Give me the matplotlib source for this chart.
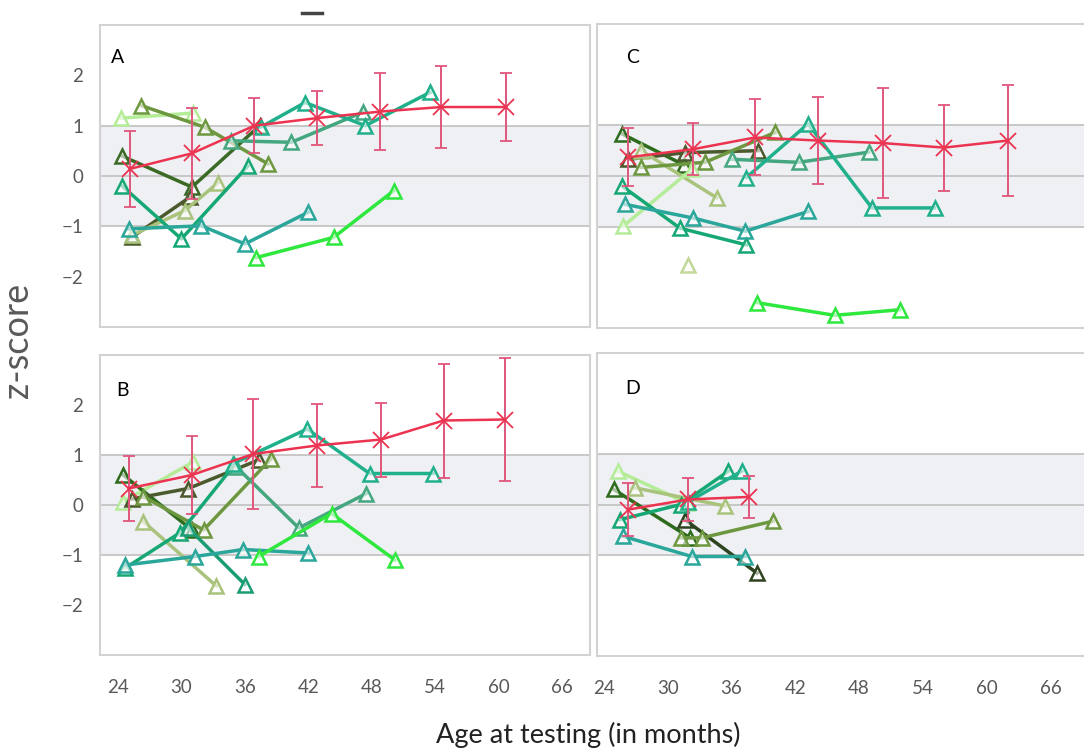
import matplotlib
matplotlib.use('Agg')
import matplotlib.pyplot as plt
from matplotlib.lines import Line2D

plt.rcParams['font.family'] = ['Lato', 'DejaVu Sans']

# Group means (red) with SD error bars
a_mean_age = [25.1, 31.0, 36.9, 42.8, 48.8, 54.6, 60.7]
a_mean_z = [0.14, 0.45, 1.00, 1.15, 1.28, 1.37, 1.37]
a_mean_sd = [0.75, 0.90, 0.55, 0.53, 0.76, 0.82, 0.68]

b_mean_age = [25.0, 31.0, 36.8, 42.8, 48.9, 54.8, 60.6]
b_mean_z = [0.33, 0.60, 1.02, 1.19, 1.31, 1.69, 1.71]
b_mean_sd = [0.65, 0.78, 1.10, 0.83, 0.74, 1.14, 1.23]

c_mean_age = [26.3, 32.4, 38.2, 44.1, 50.2, 56.0, 62.0]
c_mean_z = [0.37, 0.53, 0.76, 0.70, 0.65, 0.56, 0.70]
c_mean_sd = [0.57, 0.52, 0.75, 0.85, 1.08, 0.85, 1.10]

d_mean_age = [26.3, 31.9, 37.6]
d_mean_z = [-0.10, 0.10, 0.15]
d_mean_sd = [0.52, 0.43, 0.42]

# Individual children (green triangles)
a_ages = [[24.3, 31.1], [26.2, 32.2, 38.2], [24.35, 31.0, 37.4], [25.3, 30.8],
          [25.3, 30.3, 33.5], [24.35, 30.0, 36.3], [25.0, 31.9, 36.0, 42.0],
          [34.7, 40.4, 47.2], [37.5, 41.7, 47.4, 53.5], [37.1, 44.4, 50.1]]
a_z = [[1.15, 1.25], [1.40, 0.97, 0.24], [0.40, -0.22, 1.00], [-1.22, -0.42],
       [-1.18, -0.69, -0.13], [-0.19, -1.25, 0.20], [-1.05, -0.99, -1.35, -0.72],
       [0.70, 0.67, 1.27], [0.97, 1.46, 1.00, 1.66], [-1.62, -1.22, -0.29]]

b_ages = [[24.5, 31.1], [24.5, 31.0], [25.3, 30.65, 37.3], [26.4, 32.1, 38.5],
          [26.4, 33.3], [24.7, 29.9, 35.0], [30.6, 36.0], [35.2, 41.1, 47.5],
          [24.7, 31.3, 35.85, 42.0], [34.9, 41.9, 47.8, 53.8], [37.3, 44.2, 50.2]]
b_z = [[0.07, 0.86], [0.60, -0.50], [0.12, 0.33, 0.90], [0.17, -0.50, 0.93],
       [-0.33, -1.62], [-1.26, -0.55, 0.80], [-0.45, -1.59], [0.76, -0.46, 0.23],
       [-1.20, -1.03, -0.89, -0.96], [0.83, 1.52, 0.63, 0.63], [-1.03, -0.17, -1.10]]

c_ages = [[25.7, 31.5], [26.3, 31.6, 38.5], [27.5, 34.6], [27.5, 33.5, 40.1],
          [25.8, 32.25], [36.0, 42.3, 48.9], [37.4, 43.2, 49.2, 55.1],
          [25.7, 31.15, 37.4], [26.0, 32.4, 37.3, 43.2], [31.9], [38.4, 45.7, 51.8]]
c_z = [[0.83, 0.22], [0.33, 0.46, 0.50], [0.50, -0.43], [0.17, 0.27, 0.86],
       [-0.99, 0.13], [0.33, 0.27, 0.47], [-0.03, 1.03, -0.63, -0.63],
       [-0.20, -1.03, -1.36], [-0.56, -0.83, -1.09, -0.70], [-1.76], [-2.50, -2.75, -2.64]]

d_ages = [[25.3, 31.8], [24.9, 32.1], [31.6, 38.4], [26.9, 35.4],
          [31.2, 33.2, 39.9], [25.5, 31.2, 35.7], [31.9, 36.95], [25.8, 32.25, 37.3]]
d_z = [[0.66, 0.03], [0.30, -0.66], [-0.30, -1.36], [0.33, -0.03],
       [-0.66, -0.66, -0.33], [-0.30, 0.00, 0.66], [0.05, 0.66], [-0.63, -1.03, -1.03]]

# greens
PALE = '#b4ec98'
KHAKI = '#a9c37c'
OLIVE = '#6e9840'
DKOLIVE = '#4b5a2c'
DKGREEN = '#2d6b1d'
TEALGRN = '#16a874'
TEAL = '#20b08c'
TEALCYAN = '#2aa69a'
SEA = '#44a780'
BRIGHT = '#2ee83e'

a_colors = [PALE, OLIVE, '#3b6a25', DKOLIVE, KHAKI, TEALGRN, TEALCYAN, SEA, TEAL, BRIGHT]
b_colors = [PALE, DKGREEN, DKOLIVE, OLIVE, KHAKI, TEALGRN, '#1a9c74', SEA, TEALCYAN, TEAL, BRIGHT]
c_colors = [DKGREEN, DKOLIVE, KHAKI, OLIVE, PALE, SEA, TEAL, TEALGRN, TEALCYAN, '#c2d89a', BRIGHT]
d_colors = [PALE, DKGREEN, '#2e4420', KHAKI, OLIVE, TEALGRN, TEAL, TEALCYAN]

W, H = 1084, 748


def panel_rect(left, top, right, bottom):
    return [left / W, 1 - bottom / H, (right - left) / W, (bottom - top) / H]


def draw_panel(ax, ages, zs, colors, m_age, m_z, m_sd, letter, pos, xlim, show_x, show_y):
    ax.axhspan(-1, 1, color='#eef0f4', zorder=0, lw=0)
    for v in (-1, 0, 1):
        ax.axhline(v, color='#c4c4c4', lw=1.3, zorder=1)
    for a, z, c in zip(ages, zs, colors):
        ax.plot(a, z, '-^', color=c, lw=2.5, ms=10, mfc=(1, 1, 1, 0.6),
                mec=c, mew=1.8, zorder=3)
    ax.errorbar(m_age, m_z, yerr=m_sd, fmt='-x', color='#ec3350', ecolor='#e0567c',
                elinewidth=1.4, capsize=4, capthick=1.4, lw=1.8, ms=11, mew=1.3, zorder=5)
    ax.set_xlim(xlim)
    ax.set_ylim(-3, 3)
    ax.set_xticks(range(24, 67, 6))
    ax.set_yticks([-2, -1, 0, 1, 2])
    ax.tick_params(length=0, labelsize=13.5, labelcolor='#595959')
    ax.tick_params(axis='x', pad=17)
    ax.tick_params(axis='y', pad=12)
    if not show_x:
        ax.set_xticklabels([])
    if not show_y:
        ax.set_yticklabels([])
    for s in ax.spines.values():
        s.set_color('#d2d2d2')
        s.set_linewidth(1.5)
    ax.text(pos[0], pos[1], letter, transform=ax.transAxes, fontsize=14,
            ha='center', va='center', color='black')


fig = plt.figure(figsize=(W / 100, H / 100), dpi=100)

ax_a = fig.add_axes(panel_rect(100, 25, 590, 327))
ax_b = fig.add_axes(panel_rect(100, 355, 590, 655))
ax_c = fig.add_axes(panel_rect(597, 24, 1097, 328))
ax_d = fig.add_axes(panel_rect(597, 353, 1097, 656))

left_lim = (22.3, 68.65)
right_lim = (23.34, 70.38)

draw_panel(ax_a, a_ages, a_z, a_colors, a_mean_age, a_mean_z, a_mean_sd, 'A', (0.035, 0.894), left_lim, False, True)
draw_panel(ax_b, b_ages, b_z, b_colors, b_mean_age, b_mean_z, b_mean_sd, 'B', (0.045, 0.883), left_lim, True, True)
draw_panel(ax_c, c_ages, c_z, c_colors, c_mean_age, c_mean_z, c_mean_sd, 'C', (0.072, 0.891), right_lim, False, False)
draw_panel(ax_d, d_ages, d_z, d_colors, d_mean_age, d_mean_z, d_mean_sd, 'D', (0.072, 0.884), right_lim, True, False)

fig.text(18 / W, 1 - 340 / H, 'z-score', rotation=90, fontsize=26, color='#595959',
         ha='center', va='center')
fig.text(588 / W, 1 - 735 / H, 'Age at testing (in months)', fontsize=19.5, color='#222222',
         ha='center', va='center')
# leftover title stroke at the top edge
fig.add_artist(Line2D([302 / W, 322 / W], [1 - 13 / H, 1 - 13 / H], lw=2.5, color='#444444'))

fig.savefig('out.png', dpi=100)
